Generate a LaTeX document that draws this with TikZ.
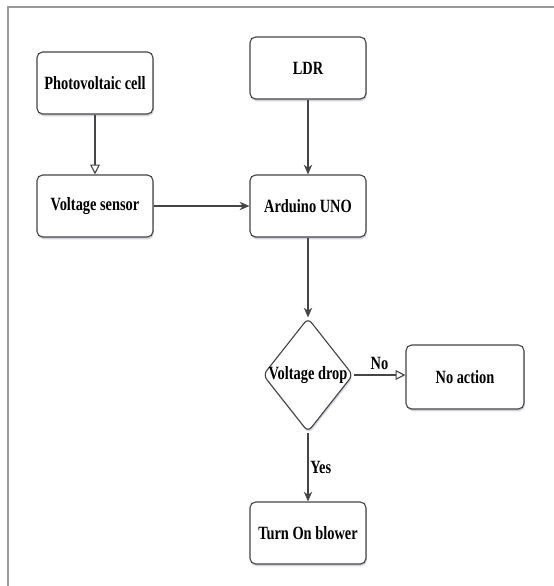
\documentclass[tikz,border=0pt]{standalone}
\usepackage{fontspec}
\usepackage{tikz}
\usepackage{xcolor}
\newfontfamily\boxfont[FakeStretch=0.77]{Liberation Serif}
\usetikzlibrary{arrows.meta, shapes.geometric, shadows, positioning}

\definecolor{linegray}{HTML}{454545}
\definecolor{framegray}{HTML}{9A9A9A}
\definecolor{shadowblue}{HTML}{8E95B0}

\begin{document}
\begin{tikzpicture}[
                        font=\boxfont\bfseries\fontsize{13.3}{15}\selectfont,
                        block/.style={draw=linegray, line width=0.8pt, rounded corners=4pt, fill=white,
                                      minimum width=2.9cm, minimum height=1.55cm,
                                      drop shadow={shadow xshift=0.6pt, shadow yshift=-1.6pt, opacity=0.4, fill=shadowblue}},
                        decision/.style={diamond, draw=linegray, line width=0.8pt, rounded corners=4pt, fill=white,
                                      inner sep=0pt, minimum width=2.25cm, minimum height=2.85cm,
                                      drop shadow={shadow xshift=0.6pt, shadow yshift=-1.6pt, opacity=0.4, fill=shadowblue}},
                        flow/.style={draw=linegray, line width=0.8pt, -{Stealth[length=7pt, width=6pt]}},
                        openflow/.style={draw=linegray, line width=0.8pt, -{Triangle[open, length=7pt, width=7pt]}}
                    ]
                        \useasboundingbox (0, 0) rectangle (13.85, -14.65);
                        \draw[framegray, line width=1.2pt] (13.85, -0.175) -- (0.2, -0.175) -- (0.2, -14.65);

                        \node[block] (pv) at (2.375, -2.075) {Photovoltaic cell};
                        \node[block] (ldr) at (7.7, -1.7) {LDR};
                        \node[block] (vs) at (2.375, -5.15) {Voltage sensor};
                        \node[block] (uno) at (7.7, -5.15) {Arduino UNO};
                        \node[decision] (drop) at (7.7, -9.375) {};
                        \node (droptext) at (drop) {Voltage drop};
                        \node[block, minimum width=2.95cm, minimum height=1.6cm] (noact) at (11.625, -9.425) {No action};
                        \node[block] (blower) at (7.7, -13.325) {Turn On blower};

                        \draw
                        (pv) edge[openflow] (vs)
                        (ldr) edge[flow] (uno)
                        (vs) edge[flow] (uno)
                        (uno) edge[flow] (drop)
                        (drop.east) edge[openflow] node[above, pos=0.5] (nolabel) {No} (drop.east -| noact.west)
                        (drop) edge[flow] node[right, pos=0.5, xshift=-2pt] (yeslabel) {Yes} (blower);
                    \end{tikzpicture}
\end{document}
